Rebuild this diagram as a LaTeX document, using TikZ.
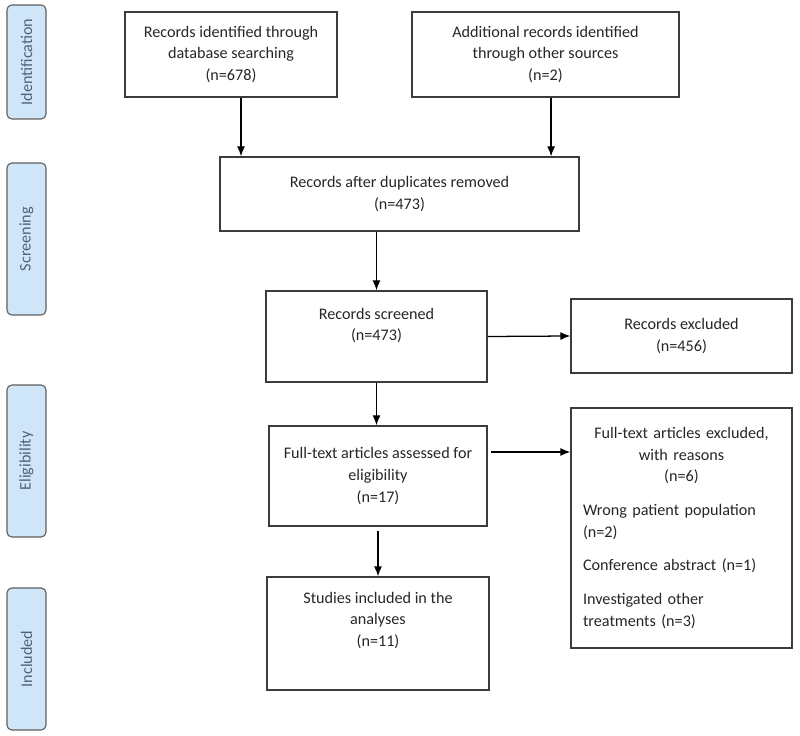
\documentclass[tikz,border=0pt]{standalone}
\usepackage{fontspec}
\setmainfont{Carlito}
\usepackage{tikz}
\usetikzlibrary{arrows.meta}

\definecolor{stagefill}{RGB}{206,230,248}
\definecolor{stageline}{RGB}{95,95,95}
\definecolor{stagetext}{RGB}{80,98,122}
\definecolor{boxline}{RGB}{60,60,60}

\tikzset{
  stage/.style={rectangle, rounded corners=0.12cm, fill=stagefill, draw=stageline,
    line width=0.8pt, rotate=90, minimum height=0.975cm, text=stagetext,
    font=\fontsize{11.5}{14}\selectfont},
  box/.style={rectangle, draw=boxline, line width=0.9pt, align=center,
    text=black!85, font=\fontsize{11.5}{15.3}\selectfont},
  flow/.style={-{Latex[length=2.5mm,width=2mm]}, line width=0.9pt}
}

\begin{document}
\begin{tikzpicture}
  \useasboundingbox (0,0) rectangle (20,-18.4);

  % stages
  \node[stage, minimum width=2.85cm] (sid) at (0.6625,-1.55) {Identification};
  \node[stage, minimum width=3.8cm] (sscr) at (0.6625,-5.975) {Screening};
  \node[stage, minimum width=3.8cm] (selig) at (0.6625,-11.525) {Eligibility};
  \node[stage, minimum width=3.55cm] (sincl) at (0.6625,-16.475) {Included};

  % identification
  \node[box, minimum width=5.3cm, minimum height=2.125cm] (db) at (5.775,-1.3625)
    {Records identified through\\database searching\\(n=678)};
  \node[box, minimum width=6.675cm, minimum height=2.125cm] (other) at (13.6375,-1.3625)
    {Additional records identified\\through other sources\\(n=2)};

  % screening
  \node[box, minimum width=8.975cm, minimum height=1.85cm] (dup) at (9.9875,-4.85)
    {Records after duplicates removed\\(n=473)};
  \node[box, minimum width=5.525cm, minimum height=2.275cm, text depth=0.6cm] (scr) at (9.4125,-8.4125)
    {Records screened\\(n=473)};
  \node[box, minimum width=5.525cm, minimum height=1.85cm] (rexcl) at (17.0375,-8.4)
    {Records excluded\\(n=456)};

  % eligibility
  \node[box, minimum width=5.45cm, minimum height=2.5cm] (full) at (9.45,-11.9)
    {Full-text articles assessed for\\eligibility\\(n=17)};
  \node[box, minimum width=5.525cm, minimum height=6cm, text width=4.925cm, align=left] (fexcl) at (17.0375,-13.2)
    {\parskip=0.31cm {\centering Full-text articles excluded,\\with reasons\\(n=6)\par}
     Wrong patient population\\(n=2)\par
     Conference abstract (n=1)\par
     Investigated other\\treatments (n=3)};

  % included
  \node[box, minimum width=5.55cm, minimum height=2.825cm, text depth=0.71cm] (incl) at (9.45,-15.8375)
    {Studies included in the\\analyses\\(n=11)};

  \draw[flow] ([xshift=0.25cm]db.south) -- ([xshift=0.25cm]db.south |- dup.north);
  \draw[flow] ([xshift=0.14cm]other.south) -- ([xshift=0.14cm]other.south |- dup.north);
  \draw[flow] (dup.south -| scr.north) -- (scr.north);
  \draw[flow] (scr.east) -- (rexcl.west);
  \draw[flow] (scr.south) -- (full.north -| scr.south);
  \draw[flow] ([xshift=0.075cm,yshift=0.6cm]full.east) -- ([yshift=0.6cm]full.east -| fexcl.west);
  \draw[flow] ([yshift=-0.1cm]full.south) -- (incl.north);
\end{tikzpicture}
\end{document}
